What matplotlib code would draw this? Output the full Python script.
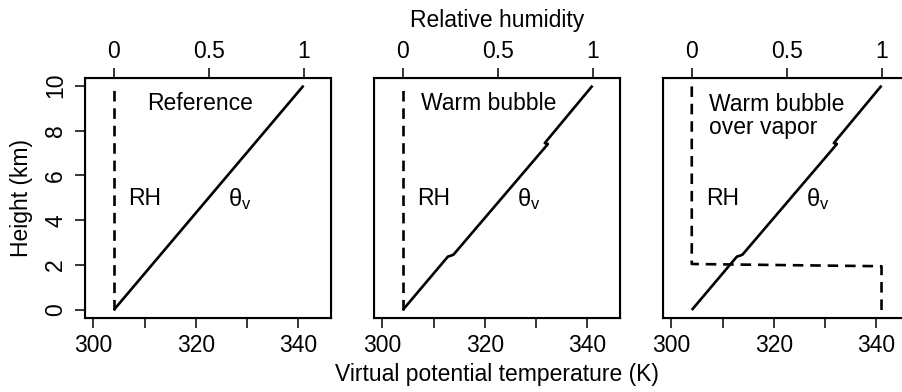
import numpy as np
import matplotlib
matplotlib.use('Agg')
import matplotlib.pyplot as plt

plt.rcParams['font.family'] = ['Liberation Sans', 'DejaVu Sans']
plt.rcParams['mathtext.fontset'] = 'custom'
plt.rcParams['mathtext.rm'] = 'Liberation Sans'
plt.rcParams['mathtext.it'] = 'Liberation Sans'

# profiles (height in km, theta_v in K, RH as fraction)
height_ref = [0.0, 10.0]
theta_ref = [304.0, 341.0]

height_bub = [0.0, 2.38, 2.43, 2.47, 7.37, 7.40, 7.44, 7.47, 10.0]
theta_bub = [304.0, 312.8, 313.5, 313.9, 332.2, 332.3, 331.7, 331.8, 341.0]

height_rh_dry = [0.0, 10.0]
rh_dry = [0.0, 0.0]

height_rh_vap = [0.0, 1.95, 2.05, 10.0]
rh_vap = [1.0, 1.0, 0.0, 0.0]

panel_labels = ['Reference', 'Warm bubble', 'Warm bubble\nover vapor']
theta_profiles = [(height_ref, theta_ref), (height_bub, theta_bub), (height_bub, theta_bub)]
rh_profiles = [(height_rh_dry, rh_dry), (height_rh_dry, rh_dry), (height_rh_vap, rh_vap)]

xlim = (298.45, 346.3)
ylim = (-0.37, 10.34)
rh0, rh1 = 304.0, 341.0  # theta positions of RH = 0 and RH = 1
fs = 16.5

fig = plt.figure(figsize=(9.02, 3.92), dpi=100)
lefts = [85.3, 374.3, 663.3]
for i in range(3):
    ax = fig.add_axes([lefts[i] / 902, (392 - 318.3) / 392, 245.4 / 902, 240.3 / 392])
    for s in ax.spines.values():
        s.set_linewidth(1.5)
    h, th = theta_profiles[i]
    ax.plot(th, h, color='black', lw=1.9, solid_capstyle='butt')
    ax.set_xlim(*xlim)
    ax.set_ylim(*ylim)
    ax.set_xticks([300, 310, 320, 330, 340])
    ax.set_xticklabels(['300', '', '320', '', '340'])
    ax.tick_params(axis='x', direction='out', length=7, width=1.1, labelsize=fs, pad=4)
    if i == 0:
        ax.set_yticks([0, 2, 4, 6, 8, 10])
        ax.tick_params(axis='y', direction='out', length=7, width=1.1, labelsize=fs, pad=6)
        for lab in ax.get_yticklabels():
            lab.set_rotation(90)
            lab.set_va('center')
    else:
        ax.set_yticks([])

    # relative humidity on a twin x axis
    ax2 = ax.twiny()
    ax2.set_xlim((xlim[0] - rh0) / (rh1 - rh0), (xlim[1] - rh0) / (rh1 - rh0))
    hr, rh = rh_profiles[i]
    ax2.plot(rh, hr, color='black', lw=1.9, linestyle=(0, (4.0, 2.6)))
    ax2.set_xticks([0, 0.5, 1])
    ax2.set_xticklabels(['0', '0.5', '1'])
    ax2.tick_params(axis='x', direction='out', length=7, width=1.1, labelsize=fs, pad=4)

    if i < 2:
        ax.text(320.8, 9.2, panel_labels[i], ha='center', va='center', fontsize=fs)
    else:
        ax.text(307.4, 8.65, panel_labels[i], ha='left', va='center', fontsize=fs,
                linespacing=1.0)
    ax.text(310.0, 4.95, 'RH', ha='center', va='center', fontsize=fs)
    ax.text(328.6, 4.95, r'$\theta_\mathrm{v}$', ha='center', va='center', fontsize=fs + 0.5)

fig.text(0.024, 0.495, 'Height (km)', rotation=90, ha='center', va='center', fontsize=fs)
fig.text(497 / 902, 1 - 21 / 392, 'Relative humidity', ha='center', va='center', fontsize=fs)
fig.text(497 / 902, 1 - 375 / 392, 'Virtual potential temperature (K)', ha='center',
         va='center', fontsize=fs)

fig.savefig('out.png', dpi=100)
